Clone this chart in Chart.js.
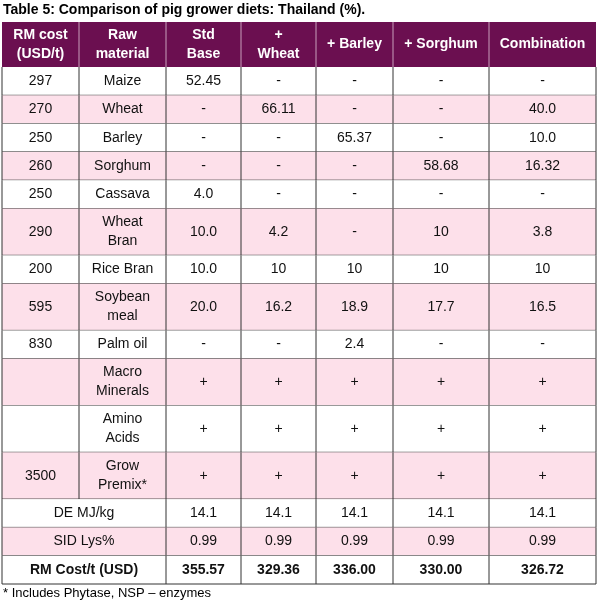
<!DOCTYPE html>
<html>
<head>
<meta charset="utf-8">
<script src="https://cdn.jsdelivr.net/npm/chart.js@4"></script>
<style>
  body { margin: 0; background: #fff; }
</style>
</head>
<body>
<canvas id="tableChart" width="600" height="601"></canvas>
<script>
// Table data
const title = "Table 5: Comparison of pig grower diets: Thailand (%).";
const headers = [["RM cost", "(USD/t)"], ["Raw", "material"], ["Std", "Base"], ["+", "Wheat"], ["+ Barley"], ["+ Sorghum"], ["Combination"]];
const rmCost = ["297", "270", "250", "260", "250", "290", "200", "595", "830", "", "", "3500"];
const rawMaterial = [["Maize"], ["Wheat"], ["Barley"], ["Sorghum"], ["Cassava"], ["Wheat", "Bran"], ["Rice Bran"], ["Soybean", "meal"], ["Palm oil"], ["Macro", "Minerals"], ["Amino", "Acids"], ["Grow", "Premix*"]];
const stdBase = ["52.45", "-", "-", "-", "4.0", "10.0", "10.0", "20.0", "-", "+", "+", "+"];
const plusWheat = ["-", "66.11", "-", "-", "-", "4.2", "10", "16.2", "-", "+", "+", "+"];
const plusBarley = ["-", "-", "65.37", "-", "-", "-", "10", "18.9", "2.4", "+", "+", "+"];
const plusSorghum = ["-", "-", "-", "58.68", "-", "10", "10", "17.7", "-", "+", "+", "+"];
const combination = ["-", "40.0", "10.0", "16.32", "-", "3.8", "10", "16.5", "-", "+", "+", "+"];
const summaryLabels = ["DE MJ/kg", "SID Lys%", "RM Cost/t (USD)"];
const summaryValues = [
  ["14.1", "14.1", "14.1", "14.1", "14.1"],
  ["0.99", "0.99", "0.99", "0.99", "0.99"],
  ["355.57", "329.36", "336.00", "330.00", "326.72"]
];
const footnote = "* Includes Phytase, NSP \u2013 enzymes";

// layout (in scale units)
const colEdges = [2, 79, 166, 241, 316, 393, 489, 596];
const headerTop = 22, headerBottom = 67;
const singleH = 28.3, doubleH = 46.8;

const HEADER_BG = "#6b0f50";
const PINK = "#fde0ea";
const BORDER = "#333";
const FONT = "Liberation Sans, Arial, sans-serif";

const tablePlugin = {
  id: "tablePlugin",
  afterDraw(chart) {
    const { ctx, scales: { x, y } } = chart;
    const px = v => x.getPixelForValue(v);
    const py = v => y.getPixelForValue(v);
    ctx.save();
    ctx.textAlign = "center";
    ctx.textBaseline = "middle";

    // title
    ctx.fillStyle = "#000";
    ctx.font = "bold 14px " + FONT;
    ctx.textAlign = "left";
    ctx.fillText(title, px(3), py(10));
    ctx.textAlign = "center";

    // header
    ctx.fillStyle = HEADER_BG;
    ctx.fillRect(px(colEdges[0]), py(headerTop), px(colEdges[7]) - px(colEdges[0]), py(headerBottom) - py(headerTop));
    ctx.font = "bold 14px " + FONT;
    headers.forEach((lines, c) => {
      const cx = (px(colEdges[c]) + px(colEdges[c + 1])) / 2;
      const cy = (py(headerTop) + py(headerBottom)) / 2;
      ctx.fillStyle = "#fff";
      lines.forEach((t, i) => ctx.fillText(t, cx, cy + (i - (lines.length - 1) / 2) * 19));
      if (c > 0) {
        ctx.strokeStyle = "#c9a0bb";
        ctx.lineWidth = 1;
        ctx.beginPath();
        ctx.moveTo(px(colEdges[c]), py(headerTop));
        ctx.lineTo(px(colEdges[c]), py(headerBottom));
        ctx.stroke();
      }
    });

    // body rows
    const rows = [];
    rmCost.forEach((cost, r) => {
      rows.push({ cells: [[cost], rawMaterial[r], [stdBase[r]], [plusWheat[r]], [plusBarley[r]], [plusSorghum[r]], [combination[r]]], tall: rawMaterial[r].length > 1 });
    });
    summaryLabels.forEach((lab, r) => {
      rows.push({ label: lab, cells: summaryValues[r].map(v => [v]), bold: r === 2 });
    });

    let top = headerBottom;
    rows.forEach((row, r) => {
      const h = row.tall ? doubleH : singleH;
      const y0 = py(top), y1 = py(top + h);
      ctx.fillStyle = r % 2 === 1 ? PINK : "#fff";
      ctx.fillRect(px(colEdges[0]), y0, px(colEdges[7]) - px(colEdges[0]), y1 - y0);
      ctx.fillStyle = "#111";
      ctx.font = (row.bold ? "bold 14px " : "14px ") + FONT;
      const cy = (y0 + y1) / 2;
      let cells, edges;
      if (row.label !== undefined) {
        cells = [[row.label]].concat(row.cells);
        edges = [colEdges[0]].concat(colEdges.slice(2));
      } else {
        cells = row.cells;
        edges = colEdges;
      }
      cells.forEach((lines, c) => {
        const cx = (px(edges[c]) + px(edges[c + 1])) / 2;
        lines.forEach((t, i) => ctx.fillText(t, cx, cy + (i - (lines.length - 1) / 2) * 19));
      });
      // grid lines
      ctx.strokeStyle = BORDER;
      ctx.lineWidth = 1;
      ctx.beginPath();
      ctx.moveTo(px(colEdges[0]), y1);
      ctx.lineTo(px(colEdges[7]), y1);
      edges.forEach(e => { ctx.moveTo(px(e), y0); ctx.lineTo(px(e), y1); });
      ctx.stroke();
      top += h;
    });

    // footnote
    ctx.textAlign = "left";
    ctx.fillStyle = "#000";
    ctx.font = "13px " + FONT;
    ctx.fillText(footnote, px(3), py(top + 9));
    ctx.restore();
  }
};

new Chart(document.getElementById("tableChart").getContext("2d"), {
  type: "scatter",
  data: { datasets: [{ data: [] }] },
  options: {
    responsive: false,
    animation: false,
    layout: { padding: 0 },
    plugins: { legend: { display: false }, tooltip: { enabled: false } },
    scales: {
      x: { type: "linear", min: 0, max: 600, display: false },
      y: { type: "linear", min: 0, max: 601, reverse: true, display: false }
    }
  },
  plugins: [tablePlugin]
});
</script>
</body>
</html>
